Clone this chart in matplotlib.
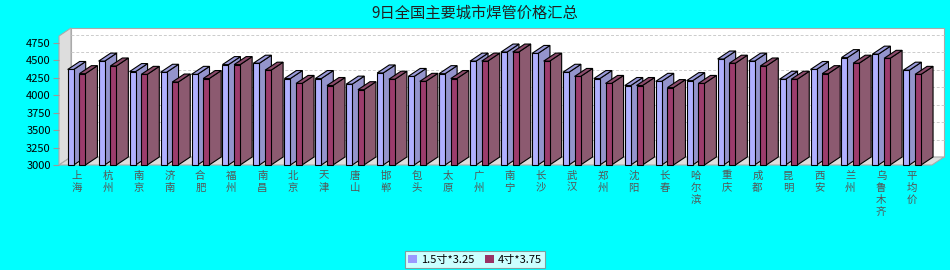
import numpy as np
import matplotlib.pyplot as plt
from matplotlib.patches import Polygon, Patch

plt.rcParams['font.family'] = ['Noto Sans CJK SC', 'DejaVu Sans']

cities = ['上海', '杭州', '南京', '济南', '合肥', '福州', '南昌', '北京', '天津', '唐山',
          '邯郸', '包头', '太原', '广州', '南宁', '长沙', '武汉', '郑州', '沈阳', '长春',
          '哈尔滨', '重庆', '成都', '昆明', '西安', '兰州', '乌鲁木齐', '平均价']
price_15 = [4370, 4490, 4340, 4330, 4300, 4440, 4460, 4240, 4240, 4160,
            4320, 4270, 4310, 4490, 4620, 4600, 4330, 4240, 4140, 4200,
            4210, 4520, 4490, 4230, 4370, 4540, 4590, 4360]
price_4 = [4310, 4420, 4300, 4190, 4240, 4440, 4360, 4170, 4140, 4080,
           4230, 4200, 4240, 4490, 4620, 4490, 4270, 4170, 4140, 4110,
           4170, 4460, 4420, 4230, 4310, 4460, 4530, 4300]
series_names = ['1.5寸*3.25', '4寸*3.75']
yticks = [3000, 3250, 3500, 3750, 4000, 4250, 4500, 4750]

W, H = 950, 270
fig = plt.figure(figsize=(W / 100, H / 100), dpi=100, facecolor='#00FFFF')

# front plane of the plot, in pixels
px_left, px_right, px_bottom, px_top = 59, 932, 165, 28
ax = fig.add_axes([px_left / W, (H - px_bottom) / H,
                   (px_right - px_left) / W, (px_bottom - px_top) / H])
ax.set_facecolor('none')

cat_px = 30.95
x0 = (px_left - 76.5) / cat_px
x1 = x0 + (px_right - px_left) / cat_px
ymin = 3000
ymax = ymin + (px_bottom - px_top) * 250 / 17.43
ax.set_xlim(x0, x1)
ax.set_ylim(ymin, ymax)

dx = 12 / cat_px
dy = 8 * (ymax - ymin) / (px_bottom - px_top)

# walls and floor
wall_kw = dict(edgecolor='#AAAAAA', linewidth=0.8, clip_on=False)
ax.add_patch(Polygon([(x0 + dx, ymin + dy), (x1 + dx, ymin + dy), (x1 + dx, ymax), (x0 + dx, ymax)],
                     facecolor='white', zorder=0, **wall_kw))
ax.add_patch(Polygon([(x0, ymin), (x0 + dx, ymin + dy), (x0 + dx, ymax), (x0, ymax - dy)],
                     facecolor='#DDDDDD', zorder=0, **wall_kw))
ax.add_patch(Polygon([(x0, ymin), (x1, ymin), (x1 + dx, ymin + dy), (x0 + dx, ymin + dy)],
                     facecolor='#DDDDDD', zorder=0, **wall_kw))
for v in yticks[1:]:
    ax.plot([x0 + dx, x1 + dx], [v + dy, v + dy], color='#CCCCCC', lw=0.7,
            ls=(0, (3, 2)), zorder=0.5, clip_on=False)


def bar3d(x, w, h, front, top, side):
    kw = dict(edgecolor='black', linewidth=0.8, clip_on=False, zorder=2)
    ax.add_patch(Polygon([(x + w, ymin), (x + w + dx, ymin + dy), (x + w + dx, h + dy), (x + w, h)],
                         facecolor=side, **kw))
    ax.add_patch(Polygon([(x, h), (x + w, h), (x + w + dx, h + dy), (x + dx, h + dy)],
                         facecolor=top, **kw))
    ax.add_patch(Polygon([(x, ymin), (x + w, ymin), (x + w, h), (x, h)],
                         facecolor=front, **kw))


bw = 6 / cat_px
for i in range(len(cities)):
    bar3d(i - 8.8 / cat_px, bw, price_15[i], '#B0B0FF', '#9C9CDC', '#9494CC')
    bar3d(i + 2.9 / cat_px, bw, price_4[i], '#9C3C6C', '#8C4C6C', '#8C5A70')

for s in ax.spines.values():
    s.set_visible(False)
ax.set_yticks(yticks)
ax.set_yticklabels([str(v) for v in yticks], fontsize=8)
ax.tick_params(axis='y', length=4, color='#999999', pad=2)
ax.set_xticks(range(len(cities)))
ax.set_xticklabels(['\n'.join(c) for c in cities], fontsize=7.5, color='#555555',
                   linespacing=1.25)
ax.tick_params(axis='x', length=0, pad=4)

fig.text(475 / W, 1 - 13 / H, '9日全国主要城市焊管价格汇总', fontsize=11,
         ha='center', va='center', color='#222222')

handles = [Patch(facecolor='#9999FF', edgecolor='none', label=series_names[0]),
           Patch(facecolor='#993366', edgecolor='none', label=series_names[1])]
leg = fig.legend(handles=handles, loc='lower center', bbox_to_anchor=(475 / W, 2 / H),
                 ncol=2, fontsize=8, frameon=True, fancybox=False, edgecolor='#888888',
                 handlelength=0.8, handleheight=0.8, handletextpad=0.3, columnspacing=1.0,
                 borderpad=0.3, borderaxespad=0)
leg.get_frame().set_linewidth(0.8)

fig.savefig('out.png', dpi=100, facecolor=fig.get_facecolor())
